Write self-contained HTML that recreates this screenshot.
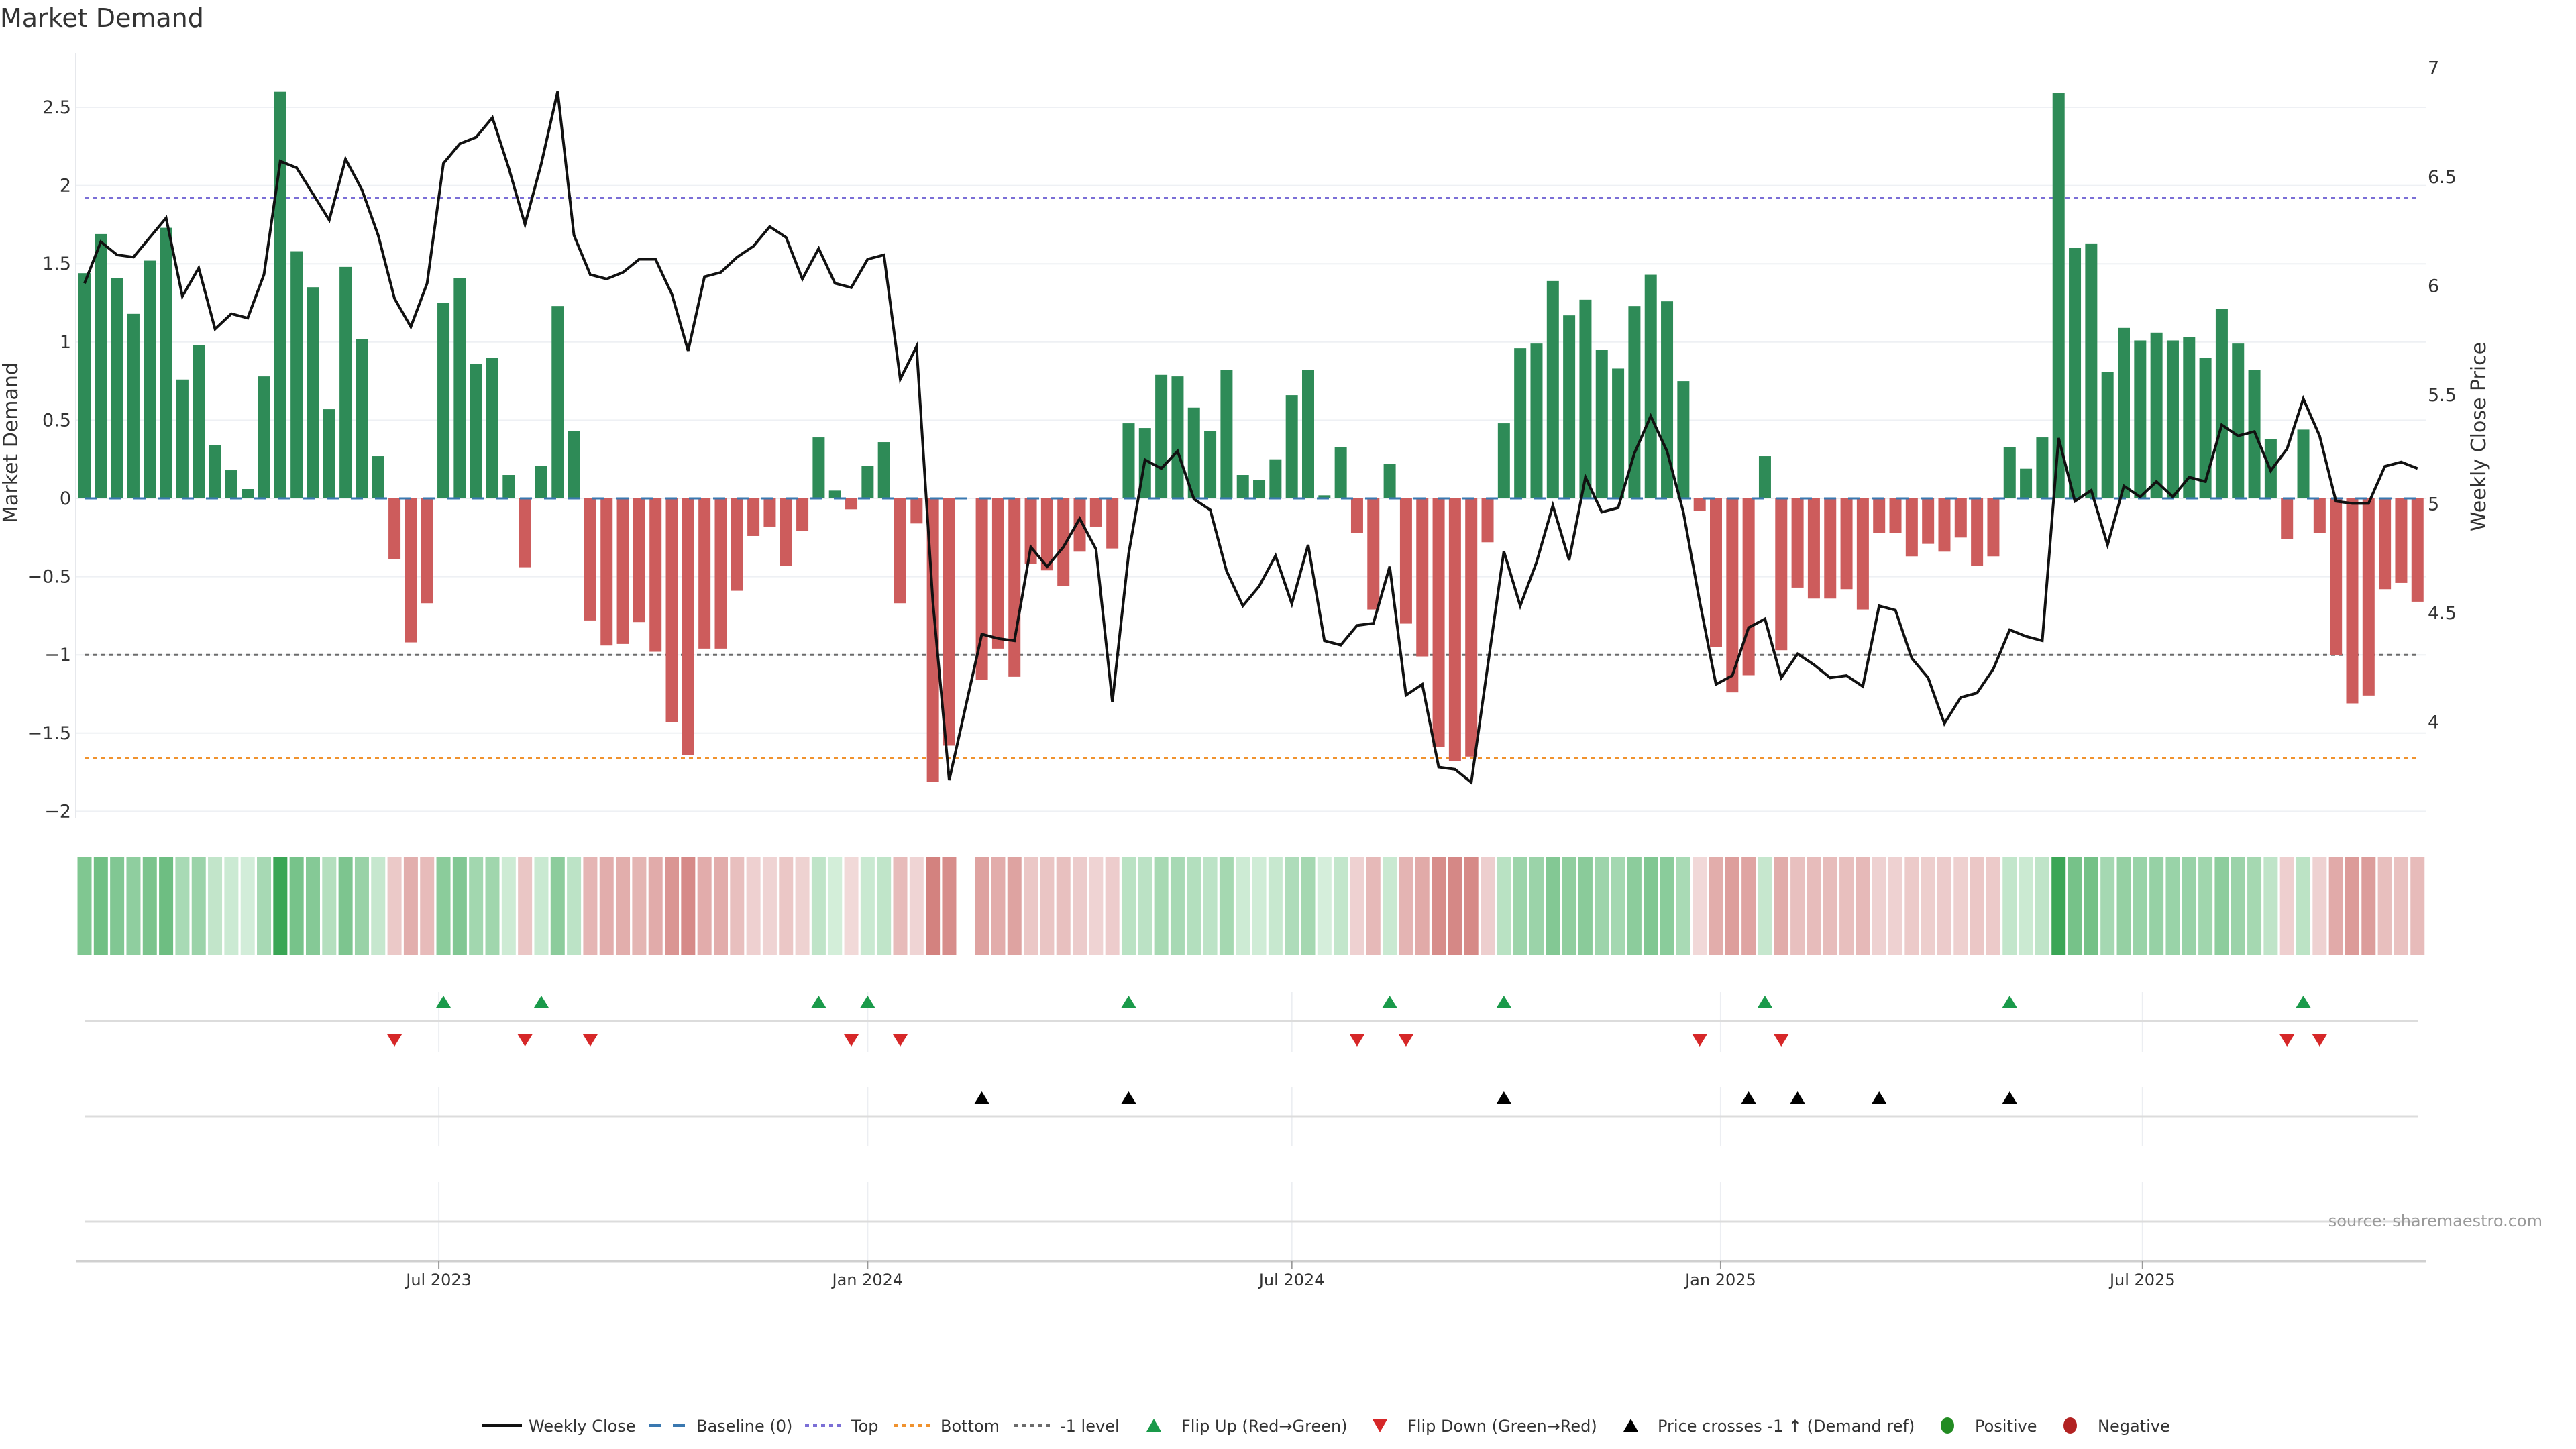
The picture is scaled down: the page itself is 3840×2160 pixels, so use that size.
<!DOCTYPE html>
<html><head><meta charset="utf-8"><title>Market Demand</title>
<style>
html,body{margin:0;padding:0;background:#fff;}
svg{display:block;font-family:"DejaVu Sans","Liberation Sans",sans-serif;}
</style></head>
<body>
<svg id="chart" width="3840" height="2160" viewBox="0 0 3840 2160" xmlns="http://www.w3.org/2000/svg">
<text x="0" y="40" font-size="38" fill="#333">Market Demand</text>
<g id="grid"></g>
<g id="refs"></g>
<g id="bars"></g>
<g id="baseline"></g>
<g id="line"></g>
<g id="axes"></g>
<g id="strip"></g>
<g id="markers"></g>
<g id="xaxis"></g>
<text x="3790" y="1828" font-size="24" fill="#999" text-anchor="end">source: sharemaestro.com</text>
<g id="legend"></g>
</svg>
<script>
// ---- data ----
const demand = [1.44,1.69,1.41,1.18,1.52,1.73,0.76,0.98,0.34,0.18,0.06,0.78,2.6,1.58,1.35,0.57,1.48,1.02,0.27,-0.39,
-0.92,-0.67,1.25,1.41,0.86,0.90,0.15,-0.44,0.21,1.23,0.43,-0.78,-0.94,-0.93,-0.79,-0.98,-1.43,-1.64,-0.96,-0.96,
-0.59,-0.24,-0.18,-0.43,-0.21,0.39,0.05,-0.07,0.21,0.36,-0.67,-0.16,-1.81,-1.58,null,-1.16,-0.96,-1.14,-0.42,-0.46,
-0.56,-0.34,-0.18,-0.32,0.48,0.45,0.79,0.78,0.58,0.43,0.82,0.15,0.12,0.25,0.66,0.82,0.02,0.33,-0.22,-0.71,
0.22,-0.80,-1.01,-1.59,-1.68,-1.65,-0.28,0.48,0.96,0.99,1.39,1.17,1.27,0.95,0.83,1.23,1.43,1.26,0.75,-0.08,
-0.95,-1.24,-1.13,0.27,-0.97,-0.57,-0.64,-0.64,-0.58,-0.71,-0.22,-0.22,-0.37,-0.29,-0.34,-0.25,-0.43,-0.37,0.33,0.19,
0.39,2.59,1.60,1.63,0.81,1.09,1.01,1.06,1.01,1.03,0.90,1.21,0.99,0.82,0.38,-0.26,0.44,-0.22,-1.00,-1.31,
-1.26,-0.58,-0.54,-0.66];
const price = [6.01,6.20,6.14,6.13,6.22,6.31,5.95,6.08,5.80,5.87,5.85,6.05,6.57,6.54,6.42,6.30,6.58,6.44,6.23,5.94,
5.81,6.01,6.56,6.65,6.68,6.77,6.54,6.28,6.56,6.89,6.23,6.05,6.03,6.06,6.12,6.12,5.96,5.70,6.04,6.06,
6.13,6.18,6.27,6.22,6.03,6.17,6.01,5.99,6.12,6.14,5.57,5.72,4.55,3.73,null,4.40,4.38,4.37,4.80,4.71,
4.80,4.93,4.79,4.09,4.77,5.20,5.16,5.24,5.02,4.97,4.69,4.53,4.62,4.76,4.54,4.81,4.37,4.35,4.44,4.45,
4.71,4.12,4.17,3.79,3.78,3.72,4.25,4.78,4.53,4.73,4.99,4.74,5.12,4.96,4.98,5.23,5.40,5.24,4.96,4.55,
4.17,4.21,4.43,4.47,4.20,4.31,4.26,4.20,4.21,4.16,4.53,4.51,4.29,4.20,3.99,4.11,4.13,4.24,4.42,4.39,
4.37,5.30,5.01,5.06,4.81,5.08,5.03,5.10,5.03,5.12,5.10,5.36,5.31,5.33,5.15,5.25,5.48,5.31,5.01,5.00,
5.00,5.17,5.19,5.16];
const leftTicks = [-2,-1.5,-1,-0.5,0,0.5,1,1.5,2,2.5];
const rightTicks = [4,4.5,5,5.5,6,6.5,7];
const refTop = [1.92];
const refBottom = [-1.66];
const refMinus1 = [-1];
const dateTicks = ["2023-07-01","2024-01-01","2024-07-01","2025-01-01","2025-07-01"];
const dateLabels = ["Jul 2023","Jan 2024","Jul 2024","Jan 2025","Jul 2025"];
const firstWeek = "2023-01-30";

// ---- scales ----
const NS="http://www.w3.org/2000/svg";
const X0=113, X1=3617;
const slotW=24.32;
const d0=Date.parse(firstWeek);
function xDate(s){return 126+(Date.parse(s)-d0)/86400000*(slotW/7);}
function xi(i){return 126+i*slotW;}
function yL(v){return 743-v*233.2;}
function yR(p){return 750.4-(p-5)*324.9;}
function mk(tag,attrs,parent){const e=document.createElementNS(NS,tag);for(const k in attrs)e.setAttribute(k,attrs[k]);parent.appendChild(e);return e;}
const G=id=>document.getElementById(id);

leftTicks.forEach(t=>{
  const l=mk('line',{x1:X0,x2:X1,y1:yL(t),y2:yL(t),stroke:'#eef0f4','stroke-width':2},G('grid'));
  
  
  const tx=mk('text',{x:106,y:yL(t)+9,'font-size':27,fill:'#333','text-anchor':'end'},G('axes'));
  tx.textContent=(t<0?'\u2212'+Math.abs(t):String(t));
  
  
});
mk('line',{x1:X0,x2:X0,y1:79,y2:1219,stroke:'#e6e8ec','stroke-width':2},G('axes'));
rightTicks.forEach(t=>{
  const tx=mk('text',{x:3619,y:yR(t)+10,'font-size':27,fill:'#333'},G('axes'));
  tx.textContent=String(t);
  
  
});
let yt=mk('text',{x:26,y:660,'font-size':30,fill:'#333','text-anchor':'middle',transform:'rotate(-90 26 660)'},G('axes'));
yt.textContent='Market Demand';


let yt2=mk('text',{x:3705,y:651,'font-size':30,fill:'#333','text-anchor':'middle',transform:'rotate(-90 3705 651)'},G('axes'));
yt2.textContent='Weekly Close Price';



function ref(v,color,name){
  const l=mk('line',{x1:127,x2:3602,y1:yL(v),y2:yL(v),stroke:color,'stroke-width':3,'stroke-dasharray':'6 6'},G('refs'));
  
  
}
ref(refTop[0],'#7b6fd6','top-line');
ref(refBottom[0],'#f0922e','bottom-line');
ref(refMinus1[0],'#6b6b6b','minus-one-level-line');

demand.forEach((v,i)=>{
  if(v===null)return;
  const y=Math.min(yL(v),yL(0)),h=Math.abs(yL(v)-yL(0));
  const r=mk('rect',{x:xi(i)-9,y:y,width:18,height:Math.max(h,1),fill:v>=0?'#2e8b57':'#cd5c5c'},G('bars'));
  
  
});
let bl=mk('line',{x1:127,x2:3602,y1:yL(0),y2:yL(0),stroke:'#3a78b0','stroke-width':3,'stroke-dasharray':'18 18'},G('baseline'));



let pts=[];
price.forEach((p,i)=>{if(p!==null)pts.push(xi(i).toFixed(1)+','+yR(p).toFixed(1));});
let pl=mk('polyline',{points:pts.join(' '),fill:'none',stroke:'#111','stroke-width':4,'stroke-linejoin':'miter'},G('line'));



function mix(a,b,t){const pa=a.match(/\w\w/g).map(h=>parseInt(h,16)),pb=b.match(/\w\w/g).map(h=>parseInt(h,16));return 'rgb('+pa.map((c,k)=>Math.round(c+(pb[k]-c)*t)).join(',')+')';}
demand.forEach((v,i)=>{
  if(v===null)return;
  let c;
  if(v>=0)c=mix('d6efdc','3aa655',Math.min(v/2.6,1));
  else c=mix('f2dcdc','d3827f',Math.min(-v/1.81,1));
  const r=mk('rect',{x:xi(i)-10.5,y:1278,width:21,height:146,fill:c},G('strip'));
  
  
});

[[1479,1568,1522],[1621,1709,1664],[1762,1880,1821]].forEach(p=>{
  dateTicks.forEach(d=>{
    const g=mk('line',{x1:xDate(d),x2:xDate(d),y1:p[0],y2:p[1],stroke:'#eceef2','stroke-width':2},G('markers'));
    
    
  });
  const l=mk('line',{x1:127,x2:3605,y1:p[2],y2:p[2],stroke:'#dcdcdc','stroke-width':3},G('markers'));
  
  
});
function tri(x,y,up,color,name){
  const d=up?`M${x-11},${y+9} L${x+11},${y+9} L${x},${y-9} Z`:`M${x-11},${y-9} L${x+11},${y-9} L${x},${y+9} Z`;
  const t=mk('path',{d:d,fill:color},G('markers'));
  
  
}
const crossLevel=5-(yL(-1)-750.4)/324.9;
let prevD=null,prevP=null;
demand.forEach((v,i)=>{
  if(v===null)return;
  if(prevD!==null){
    if(prevD<0&&v>=0)tri(xi(i),1493,true,'#1a9a4a','flip-up-marker');
    if(prevD>=0&&v<0)tri(xi(i),1551,false,'#d62728','flip-down-marker');
  }
  prevD=v;
});
price.forEach((p,i)=>{
  if(p===null)return;
  if(prevP!==null&&prevP<crossLevel&&p>=crossLevel)tri(xi(i),1636,true,'#000','price-cross-marker');
  prevP=p;
});

mk('line',{x1:113,x2:3617,y1:1880,y2:1880,stroke:'#d0d0d0','stroke-width':3},G('xaxis'));
dateTicks.forEach((d,k)=>{
  const x=xDate(d);
  mk('line',{x1:x,x2:x,y1:1880,y2:1892,stroke:'#999','stroke-width':2},G('xaxis'));
  const t=mk('text',{x:x,y:1916,'font-size':24,fill:'#333','text-anchor':'middle'},G('xaxis'));
  t.textContent=dateLabels[k];
  
  
});

const L=G('legend'), ly=2125;
function ltext(x,s,name){const t=mk('text',{x:x,y:ly+9,'font-size':24,fill:'#333'},L);t.textContent=s;}
mk('line',{x1:718,x2:778,y1:ly,y2:ly,stroke:'#111','stroke-width':4},L);
ltext(788,'Weekly Close','legend-weekly-close');
mk('line',{x1:967,x2:1022,y1:ly,y2:ly,stroke:'#3a78b0','stroke-width':4,'stroke-dasharray':'18 18'},L);
ltext(1038,'Baseline (0)','legend-baseline');
mk('line',{x1:1200,x2:1256,y1:ly,y2:ly,stroke:'#7b6fd6','stroke-width':4,'stroke-dasharray':'6 6'},L);
ltext(1269,'Top','legend-top');
mk('line',{x1:1333,x2:1389,y1:ly,y2:ly,stroke:'#f0922e','stroke-width':4,'stroke-dasharray':'6 6'},L);
ltext(1402,'Bottom','legend-bottom');
mk('line',{x1:1511,x2:1567,y1:ly,y2:ly,stroke:'#6b6b6b','stroke-width':4,'stroke-dasharray':'6 6'},L);
ltext(1580,'-1 level','legend-minus-one');
mk('path',{d:`M1709,${ly+9} L1731,${ly+9} L1720,${ly-10} Z`,fill:'#1a9a4a'},L);
ltext(1761,'Flip Up (Red\u2192Green)','legend-flip-up');
mk('path',{d:`M2046,${ly-9} L2068,${ly-9} L2057,${ly+10} Z`,fill:'#d62728'},L);
ltext(2098,'Flip Down (Green\u2192Red)','legend-flip-down');
mk('path',{d:`M2420,${ly+9} L2442,${ly+9} L2431,${ly-10} Z`,fill:'#000'},L);
ltext(2471,'Price crosses -1 \u2191 (Demand ref)','legend-price-cross');
mk('ellipse',{cx:2903,cy:ly,rx:10,ry:12,fill:'#228b22'},L);
ltext(2944,'Positive','legend-positive');
mk('ellipse',{cx:3086,cy:ly,rx:10,ry:12,fill:'#b22222'},L);
ltext(3127,'Negative','legend-negative');
</script>
</body></html>
